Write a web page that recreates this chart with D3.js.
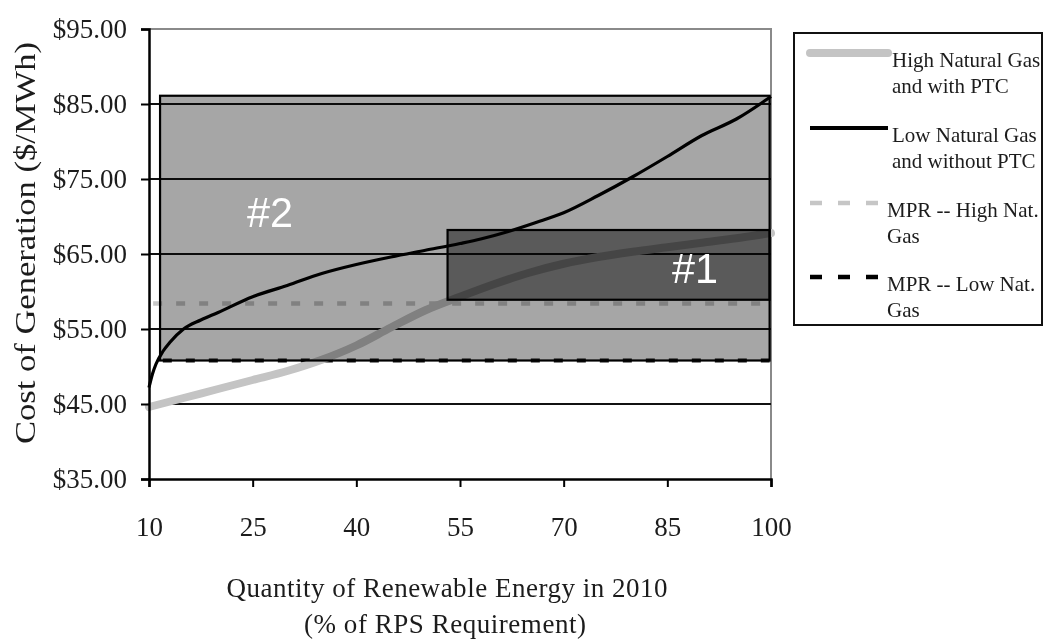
<!DOCTYPE html>
<html>
<head>
<meta charset="utf-8">
<script src="https://cdn.jsdelivr.net/npm/d3@7"></script>
<style>
  html, body { margin: 0; padding: 0; background: #ffffff; }
  svg { display: block; }
  text { font-family: "Liberation Serif", "Times New Roman", serif; fill: #1c1c1c; }
</style>
</head>
<body>
<svg id="chart" width="1045" height="644"></svg>
<script>
// ---- data ----
const xTicks = [10, 25, 40, 55, 70, 85, 100];
const yTicks = [35, 45, 55, 65, 75, 85, 95];
const gridValues = [45, 55, 65, 75, 85];

const pctLow = [10, 10.5, 11, 12, 13, 15, 17.5, 20, 25, 30, 35, 40, 45, 50, 55, 58, 62, 66, 70, 75, 80, 85, 90, 95, 100];
const lowGasNoPTC = [47.2, 49.0, 50.3, 52.0, 53.2, 55.0, 56.2, 57.2, 59.3, 60.8, 62.4, 63.6, 64.6, 65.5, 66.4, 67.0, 68.0, 69.2, 70.5, 72.8, 75.3, 78.0, 80.8, 83.0, 86.0];

const pctHigh = [10, 15, 20, 25, 30, 35, 40, 45, 50, 55, 60, 65, 70, 75, 80, 85, 90, 95, 100];
const highGasPTC = [44.6, 45.8, 47.0, 48.2, 49.4, 50.9, 52.8, 55.2, 57.5, 59.3, 61.0, 62.5, 63.7, 64.6, 65.3, 65.9, 66.5, 67.1, 67.8];

const mprHighGas = 58.4;
const mprLowGas = 50.8;

const boxLabels = ["#2", "#1"];
const boxX0 = [11.6, 53.2];
const boxX1 = [99.8, 99.8];
const boxYLow = [50.8, 58.9];
const boxYHigh = [86.1, 68.2];
const boxLabelX = [27.5, 89.0];
const boxLabelY = [70.6, 63.1];

const legendLabels = [
  ["High Natural Gas", "and with PTC"],
  ["Low Natural Gas", "and without PTC"],
  ["MPR -- High Nat.", "Gas"],
  ["MPR -- Low Nat.", "Gas"]
];

// ---- layout ----
const svg = d3.select("#chart");
const x = d3.scaleLinear().domain([10, 100]).range([149, 771]);
const y = d3.scaleLinear().domain([35, 95]).range([479, 29]);

svg.append("rect").attr("width", 1045).attr("height", 644).attr("fill", "#ffffff");

const plot = svg.append("g");

// plot border (top and right, gray)
plot.append("path")
  .attr("d", `M${x(10)},${y(95)}H${x(100)}V${y(35)}`)
  .attr("fill", "none").attr("stroke", "#8a8a8a").attr("stroke-width", 2);

// gridlines
plot.selectAll("line.grid").data(gridValues).enter().append("line")
  .attr("class", "grid")
  .attr("x1", x(10)).attr("x2", x(100))
  .attr("y1", d => y(d)).attr("y2", d => y(d))
  .attr("stroke", "#111").attr("stroke-width", 1.8);

// MPR lines
plot.append("line")
  .attr("x1", x(10.6)).attr("x2", x(99.8))
  .attr("y1", y(mprHighGas)).attr("y2", y(mprHighGas))
  .attr("stroke", "#c6c6c6").attr("stroke-width", 4.5)
  .attr("stroke-dasharray", "9,14");
plot.append("line")
  .attr("x1", x(12)).attr("x2", x(99.8))
  .attr("y1", y(mprLowGas)).attr("y2", y(mprLowGas))
  .attr("stroke", "#111").attr("stroke-width", 4)
  .attr("stroke-dasharray", "9,14");

// gray curve
const lineGen = d3.line().x(d => x(d[0])).y(d => y(d[1])).curve(d3.curveMonotoneX);
plot.append("path")
  .datum(pctHigh.map((p, i) => [p, highGasPTC[i]]))
  .attr("d", lineGen)
  .attr("fill", "none").attr("stroke", "#c4c4c4").attr("stroke-width", 8)
  .attr("stroke-linecap", "round").attr("stroke-linejoin", "round");

// black curve
plot.append("path")
  .datum(pctLow.map((p, i) => [p, lowGasNoPTC[i]]))
  .attr("d", lineGen)
  .attr("fill", "none").attr("stroke", "#000").attr("stroke-width", 3.2)
  .attr("stroke-linejoin", "round");

// boxes (multiply blended, like a scanned overlay)
const boxFills = ["#a6a6a6", "#8a8a8a"];
boxLabels.forEach((lab, i) => {
  plot.append("rect")
    .attr("x", x(boxX0[i]))
    .attr("y", y(boxYHigh[i]))
    .attr("width", x(boxX1[i]) - x(boxX0[i]))
    .attr("height", y(boxYLow[i]) - y(boxYHigh[i]))
    .attr("fill", boxFills[i])
    .attr("stroke", "#000").attr("stroke-width", 2.2)
    .style("mix-blend-mode", "multiply");
});
boxLabels.forEach((lab, i) => {
  plot.append("text")
    .attr("x", x(boxLabelX[i]))
    .attr("y", y(boxLabelY[i]))
    .attr("text-anchor", "middle")
    .attr("dominant-baseline", "central")
    .attr("textLength", 46).attr("lengthAdjust", "spacingAndGlyphs")
    .style("font-family", "'Liberation Sans', Arial, sans-serif")
    .style("font-size", "43px")
    .style("fill", "#ffffff")
    .text(lab);
});

// axes
const yAxis = d3.axisLeft(y).tickValues(yTicks).tickSize(8).tickPadding(14)
  .tickFormat(d => "$" + d3.format(".2f")(d));
const gy = svg.append("g").attr("transform", `translate(${x(10)},0)`).call(yAxis);
gy.select(".domain").attr("stroke", "#000").attr("stroke-width", 2.5);
gy.selectAll(".tick line").attr("stroke", "#000").attr("stroke-width", 2);
gy.selectAll(".tick text").style("font-size", "27px").style("font-family", "'Liberation Serif', serif").attr("fill", "#1c1c1c");

const xAxis = d3.axisBottom(x).tickValues(xTicks).tickSize(8).tickPadding(30).tickFormat(d3.format("d"));
const gx = svg.append("g").attr("transform", `translate(0,${y(35)})`).call(xAxis);
gx.select(".domain").attr("stroke", "#000").attr("stroke-width", 2.5);
gx.selectAll(".tick line").attr("stroke", "#000").attr("stroke-width", 2);
gx.selectAll(".tick text").style("font-size", "27px").style("font-family", "'Liberation Serif', serif").attr("fill", "#1c1c1c");

// axis titles
svg.append("text")
  .attr("transform", "translate(35,243) rotate(-90)")
  .attr("text-anchor", "middle")
  .attr("textLength", 402).attr("lengthAdjust", "spacingAndGlyphs")
  .style("font-size", "30px")
  .text("Cost of Generation ($/MWh)");

svg.append("text")
  .attr("x", 447).attr("y", 597)
  .attr("text-anchor", "middle")
  .attr("textLength", 441).attr("lengthAdjust", "spacing")
  .style("font-size", "27px")
  .text("Quantity of Renewable Energy in 2010");
svg.append("text")
  .attr("x", 445).attr("y", 633)
  .attr("text-anchor", "middle")
  .attr("textLength", 282).attr("lengthAdjust", "spacing")
  .style("font-size", "27px")
  .text("(% of RPS Requirement)");

// legend
const lg = svg.append("g");
lg.append("rect").attr("x", 794).attr("y", 33).attr("width", 248).attr("height", 292)
  .attr("fill", "#fff").attr("stroke", "#111").attr("stroke-width", 2);

const legendY = [53, 128, 203, 277];
const legendStroke = ["#c4c4c4", "#000", "#c6c6c6", "#000"];
const legendWidth = [8, 4, 4.5, 4.5];
const legendDash = [null, null, "12,16", "12,16"];
const legendTextX = [892, 892, 887, 887];
legendLabels.forEach((lines, i) => {
  lg.append("line")
    .attr("x1", 810).attr("x2", 888)
    .attr("y1", legendY[i]).attr("y2", legendY[i])
    .attr("stroke", legendStroke[i]).attr("stroke-width", legendWidth[i])
    .attr("stroke-linecap", i === 0 ? "round" : "butt")
    .attr("stroke-dasharray", legendDash[i]);
  lines.forEach((t, j) => {
    lg.append("text")
      .attr("x", legendTextX[i])
      .attr("y", legendY[i] + 14 + j * 26)
      .style("font-size", "21px")
      .text(t);
  });
});
</script>
</body>
</html>
